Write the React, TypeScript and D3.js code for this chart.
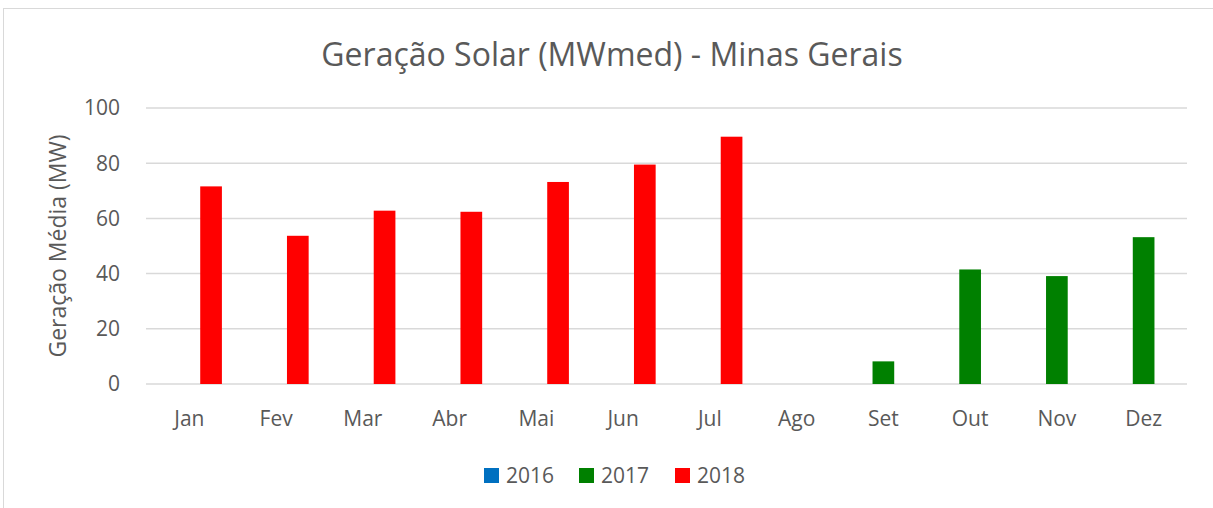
import React, { useEffect, useRef } from 'react';
import * as d3 from 'd3';

const months = ['Jan', 'Fev', 'Mar', 'Abr', 'Mai', 'Jun', 'Jul', 'Ago', 'Set', 'Out', 'Nov', 'Dez'];
const years = ['2016', '2017', '2018'];
const values2016: (number | null)[] = [null, null, null, null, null, null, null, null, null, null, null, null];
const values2017: (number | null)[] = [null, null, null, null, null, null, null, null, 8.2, 41.5, 39.1, 53.2];
const values2018: (number | null)[] = [71.6, 53.7, 62.8, 62.4, 73.2, 79.5, 89.6, null, null, null, null, null];
const yTicks = [0, 20, 40, 60, 80, 100];

const colors: Record<string, string> = { '2016': '#0070C0', '2017': '#008000', '2018': '#FF0000' };
const textColor = '#595959';
const font = "'Open Sans', sans-serif";

const App = () => {
  const svgRef = useRef<SVGSVGElement | null>(null);

  useEffect(() => {
    const svg = d3.select(svgRef.current);
    svg.selectAll('*').remove();

    const width = 1213;
    const height = 508;
    const margin = { top: 108, right: 26, bottom: 124, left: 146 };
    const chartWidth = width - margin.left - margin.right;
    const chartHeight = height - margin.top - margin.bottom;

    svg.attr('width', width).attr('height', height);

    // chart border (cropped)
    svg.append('rect')
      .attr('x', 3.5).attr('y', 8.5)
      .attr('width', width).attr('height', height)
      .attr('fill', 'white')
      .attr('stroke', '#d9d9d9');

    const g = svg.append('g').attr('transform', `translate(${margin.left},${margin.top})`);

    const x0 = d3.scaleBand().domain(months).range([0, chartWidth]).padding(0);
    const step = x0.bandwidth();
    const x1 = d3.scaleBand().domain(years).range([step / 8, (step * 7) / 8]).padding(0);
    const y = d3.scaleLinear().domain([0, 100]).range([chartHeight, 0]);

    // gridlines
    g.selectAll('.grid')
      .data(yTicks)
      .enter()
      .append('line')
      .attr('x1', 0).attr('x2', chartWidth)
      .attr('y1', d => y(d)).attr('y2', d => y(d))
      .attr('stroke', '#d9d9d9')
      .attr('stroke-width', 1.5);

    // y tick labels
    g.selectAll('.ytick')
      .data(yTicks)
      .enter()
      .append('text')
      .attr('x', -26)
      .attr('y', d => y(d))
      .attr('dy', '0.35em')
      .attr('text-anchor', 'end')
      .style('font-family', font)
      .style('font-size', '21px')
      .style('fill', textColor)
      .text(d => d);

    // x labels
    g.selectAll('.xtick')
      .data(months)
      .enter()
      .append('text')
      .attr('x', d => (x0(d) as number) + step / 2)
      .attr('y', chartHeight + 35)
      .attr('dy', '0.35em')
      .attr('text-anchor', 'middle')
      .style('font-family', font)
      .style('font-size', '21px')
      .style('fill', textColor)
      .text(d => d);

    // bars
    const series: Record<string, (number | null)[]> = { '2016': values2016, '2017': values2017, '2018': values2018 };
    years.forEach(yr => {
      const data = months
        .map((m, i) => ({ month: m, value: series[yr][i] }))
        .filter(d => d.value !== null) as { month: string; value: number }[];
      g.selectAll(`.bar-${yr}`)
        .data(data)
        .enter()
        .append('rect')
        .attr('x', d => (x0(d.month) as number) + (x1(yr) as number))
        .attr('y', d => y(d.value))
        .attr('width', x1.bandwidth())
        .attr('height', d => chartHeight - y(d.value))
        .attr('fill', colors[yr]);
    });

    // y axis title
    g.append('text')
      .attr('transform', `translate(-88,${chartHeight / 2}) rotate(-90)`)
      .attr('text-anchor', 'middle')
      .attr('dy', '0.35em')
      .style('font-family', font)
      .style('font-size', '23px')
      .style('fill', textColor)
      .text('Geração Média (MW)');

    // title
    svg.append('text')
      .attr('x', 612)
      .attr('y', 55)
      .attr('dy', '0.35em')
      .attr('text-anchor', 'middle')
      .style('font-family', font)
      .style('font-size', '32px')
      .style('fill', textColor)
      .text('Geração Solar (MWmed) - Minas Gerais');

    // legend
    const legendX = [484, 579, 675];
    const legend = svg.append('g');
    years.forEach((yr, i) => {
      legend.append('rect')
        .attr('x', legendX[i]).attr('y', 468)
        .attr('width', 15).attr('height', 15)
        .attr('fill', colors[yr]);
      legend.append('text')
        .attr('x', legendX[i] + 22)
        .attr('y', 475.5)
        .attr('dy', '0.35em')
        .style('font-family', font)
        .style('font-size', '21px')
        .style('fill', textColor)
        .text(yr);
    });
  }, []);

  return (
    <svg ref={svgRef} style={{ display: 'block', position: 'absolute', left: 0, top: 0 }}></svg>
  );
};

export default App;
